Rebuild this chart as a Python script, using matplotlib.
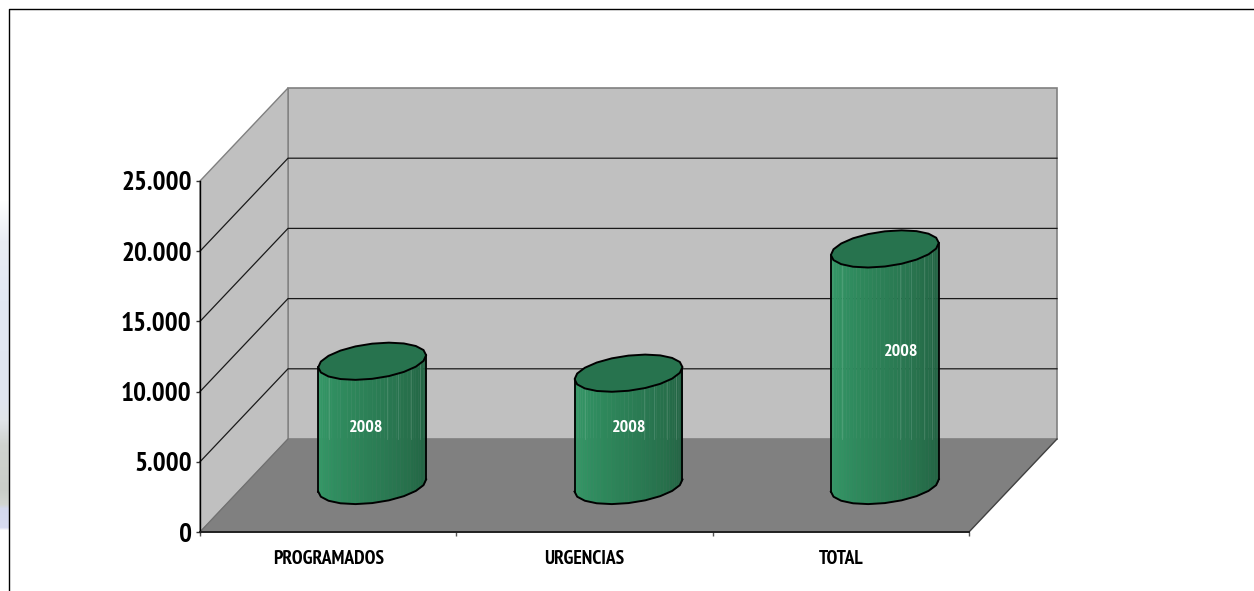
import numpy as np
import matplotlib
matplotlib.use("Agg")
import matplotlib.pyplot as plt
from matplotlib.colors import to_rgb
from matplotlib.patches import Polygon

categories = ["PROGRAMADOS", "URGENCIAS", "TOTAL"]
values = [8850, 8000, 16850]
point_labels = ["2008", "2008", "2008"]
y_ticks = [0, 5000, 10000, 15000, 20000, 25000]
y_tick_labels = ["0", "5.000", "10.000", "15.000", "20.000", "25.000"]

W, H = 1254, 591
FONT = ["PT Sans Narrow", "Liberation Sans Narrow", "Liberation Sans", "DejaVu Sans"]
fig = plt.figure(figsize=(W / 100, H / 100), dpi=100, facecolor="white")

# pale backdrop at the far left, outside the framed slide
bg = fig.add_axes([0, 0, 1, 1], zorder=0)
bg.set_xlim(0, W); bg.set_ylim(H, 0); bg.axis("off")
strip_y = [200, 240, 300, 400, 420, 445, 490, 505, 509, 528, 531]
strip_c = ["#ffffff", "#e9edf4", "#e2e8f3", "#e0e6f1", "#e1e5ea", "#cfd3cf",
           "#c9cdc8", "#d2d6d2", "#d4d9ee", "#d8dcf2", "#ffffff"]
rgb = np.array([to_rgb(c) for c in strip_c])
yy = np.arange(strip_y[0], strip_y[-1] + 1)
img = np.stack([np.interp(yy, strip_y, rgb[:, k]) for k in range(3)], axis=1)[:, None, :]
bg.imshow(img, extent=(0, 9, yy[-1], yy[0]), aspect="auto", interpolation="nearest")
bg.set_xlim(0, W); bg.set_ylim(H, 0)
bg.plot([9, 9, W], [H, 9, 9], color="black", lw=1.0)

# Front plane of the chart box in pixels: x 200..969, y 532..181
L, R, B, T = 200, 969, 532, 181
ax = fig.add_axes([L / W, 1 - B / H, (R - L) / W, (B - T) / H], zorder=1)
ax.set_xlim(0, len(categories))
ax.set_ylim(0, 25000)
ax.patch.set_alpha(0)

# Oblique depth vector, in data units per unit of depth
DX = 88 / ((R - L) / 3)
DY = 93 / ((B - T) / 25000)

def proj(x, y, d):
    return (x + d * DX, y + d * DY)

wall, floor_c = "#c0c0c0", "#808080"
edge = "#808080"
n = len(categories)
top = y_ticks[-1]
ax.add_patch(Polygon([proj(0, 0, 1), proj(n, 0, 1), proj(n, top, 1), proj(0, top, 1)],
                     fc=wall, ec=edge, lw=1.2, clip_on=False, zorder=1))
ax.add_patch(Polygon([proj(0, 0, 0), proj(0, 0, 1), proj(0, top, 1), proj(0, top, 0)],
                     fc=wall, ec=edge, lw=1.0, clip_on=False, zorder=1))
ax.add_patch(Polygon([proj(0, 0, 0), proj(n, 0, 0), proj(n, 0, 1), proj(0, 0, 1)],
                     fc=floor_c, ec="none", clip_on=False, zorder=1.5))
ax.plot(*zip(proj(n, 0, 0), proj(n, 0, 1)), color="#404040", lw=1.0, clip_on=False, zorder=2)
ax.plot(*zip(proj(0, 0, 0), proj(0, 0, 1)), color="#707070", lw=0.8, clip_on=False, zorder=2)
for v in y_ticks[1:-1]:
    ax.plot(*zip(proj(0, v, 0), proj(0, v, 1), proj(n, v, 1)),
            color="#1a1a1a", lw=0.9, clip_on=False, zorder=2)

# Cylinders
C_LIGHT, C_DARK, C_TOP = np.array(to_rgb("#369e6b")), np.array(to_rgb("#215f40")), "#27734e"
RX, RD = 0.199, 0.20
FACETS = 20
STREAK_FRACS = [0.10, 0.64, 0.74, 0.86, 0.94]

def rim(cx, v, t):
    return proj(cx + RX * np.cos(t), v, 0.5 + RD * np.sin(t))

pxx = (R - L) / 3
t0 = np.arctan2(RD * DX * pxx, RX * pxx)
for i, v in enumerate(values):
    cx = i + 0.5
    ts = np.linspace(np.pi + t0, 2 * np.pi + t0, FACETS // 2 + 1)
    fine = np.linspace(ts[0], ts[-1], 41)
    xb, yb = rim(cx, 0, fine)
    xt, yt = rim(cx, v, fine)
    for j in range(len(fine) - 1):
        f = (j + 0.5) / (len(fine) - 1)
        col = C_LIGHT + (C_DARK - C_LIGHT) * f
        ax.fill([xb[j], xb[j + 1], xt[j + 1], xt[j]], [yb[j], yb[j + 1], yt[j + 1], yt[j]],
                color=col, lw=0.3, clip_on=False, zorder=3)
    floor_back = proj(0, 0, 1)[1]
    for f in STREAK_FRACS:
        sx = xb[0] + (xb[-1] - xb[0]) * f
        st = np.interp(sx, xt, yt)
        ax.plot([sx, sx], [floor_back, st], color="white", alpha=0.15, lw=0.6, clip_on=False, zorder=3.5)
    xbo, ybo = rim(cx, 0, ts)
    ax.plot(xbo, ybo, color="black", lw=1.4, clip_on=False, zorder=4)
    ax.plot([xb[0], xt[0]], [yb[0], yt[0]], color="black", lw=1.3, clip_on=False, zorder=4)
    ax.plot([xb[-1], xt[-1]], [yb[-1], yt[-1]], color="black", lw=1.3, clip_on=False, zorder=4)
    tt = np.linspace(np.pi + t0, 3 * np.pi + t0, FACETS + 1)
    xe, ye = rim(cx, v, tt)
    ax.add_patch(Polygon(np.column_stack([xe, ye]), closed=True, fc=C_TOP, ec="black",
                         lw=1.4, clip_on=False, zorder=5))

# Data labels, with pixel nudges
label_dx = [-6, 1, 16]
label_dy = [-5, 1, 15]
for i, (v, lab) in enumerate(zip(values, point_labels)):
    px, py = proj(i + 0.5, v * 0.5, 0.5)
    ax.annotate(lab, xy=(px, py), xytext=(label_dx[i] * 0.72, label_dy[i] * 0.72), textcoords="offset points",
                ha="center", va="center", color="white", fontsize=13, fontweight="bold",
                family=FONT, zorder=6, annotation_clip=False)

for s in ("top", "right"):
    ax.spines[s].set_visible(False)
ax.spines["left"].set_color("black"); ax.spines["left"].set_linewidth(1.0); ax.spines["left"].set_zorder(6)
ax.spines["bottom"].set_color("#202020"); ax.spines["bottom"].set_linewidth(1.4); ax.spines["bottom"].set_zorder(6)
ax.set_yticks(y_ticks)
ax.set_yticklabels(y_tick_labels, fontsize=19.5, fontweight="bold", family=FONT, color="black")
ax.tick_params(axis="y", length=3, width=1, pad=3, color="#333333")
ax.set_xticks(range(n + 1))
ax.set_xticklabels([""] * (n + 1))
ax.tick_params(axis="x", length=3, width=1, color="#555555")
ax.set_xticks([i + 0.5 for i in range(n)], minor=True)
ax.set_xticklabels(categories, minor=True, fontsize=14, fontweight="bold", family=FONT, color="black")
ax.tick_params(axis="x", which="minor", length=0, pad=13)

fig.savefig("out.png", dpi=100)
